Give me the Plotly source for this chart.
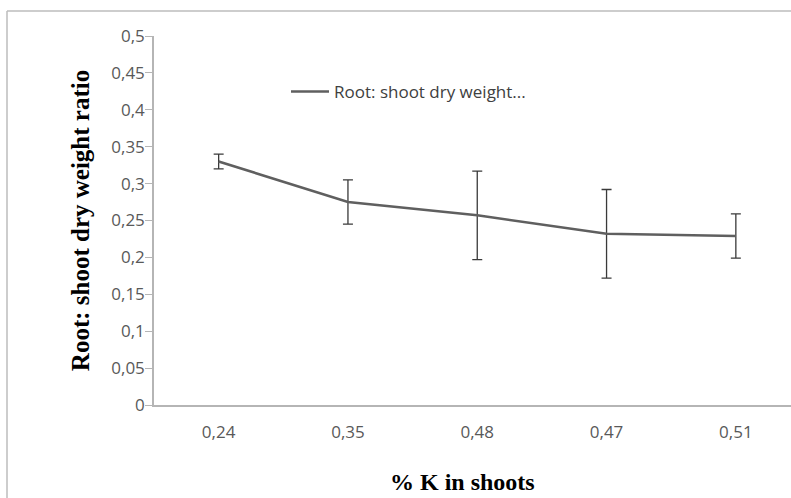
import plotly.graph_objects as go

categories = ["0,24", "0,35", "0,48", "0,47", "0,51"]
ratio = [0.33, 0.275, 0.257, 0.232, 0.229]
err = [0.01, 0.03, 0.06, 0.06, 0.03]
series_name = "Root: shoot dry weight..."
x_title = "% K in shoots"
y_title = "Root: shoot dry weight ratio"

W, H = 791, 498
L, R, T, B = 154, 0, 36, 93
pw, ph = W - L - R, H - T - B
cat_px = 129.3

fig = go.Figure()
fig.add_trace(go.Scatter(
    x=categories, y=ratio, mode="lines", name=series_name,
    line=dict(color="#5f5f5f", width=2.6),
    error_y=dict(type="data", array=err, visible=True, color="#3a3a3a",
                 thickness=1.3, width=5),
))

bx0 = (7 - L) / pw
by1 = 1 + (T - 11) / ph
fig.update_layout(
    width=W, height=H,
    margin=dict(l=L, r=R, t=T, b=B, autoexpand=False),
    paper_bgcolor="white", plot_bgcolor="white",
    separators=",.",
    showlegend=True,
    legend=dict(x=(286 - L) / pw, y=1 - (92 - T) / ph, xanchor="left", yanchor="middle",
                itemwidth=38,
                font=dict(family="Open Sans", size=17, color="#404040"),
                bgcolor="rgba(0,0,0,0)"),
    font=dict(family="Open Sans", size=17, color="#595959"),
    xaxis=dict(type="category", range=[-0.5, -0.5 + pw / cat_px], automargin=False,
               showline=True, linecolor="#b5b5b5", linewidth=1.5,
               ticks="", showgrid=False, zeroline=False,
               tickfont=dict(family="Open Sans", size=17, color="#595959"),
               ticklabelstandoff=11),
    yaxis=dict(range=[0, 0.5], dtick=0.05, tick0=0, automargin=False,
               showline=True, linecolor="#b5b5b5", linewidth=1.5,
               ticks="outside", ticklen=7, tickcolor="#b5b5b5", tickwidth=1.2,
               ticklabelstandoff=-3,
               showgrid=False, zeroline=False,
               tickfont=dict(family="Open Sans", size=17, color="#595959"),
               title=dict(text=y_title, standoff=15,
                          font=dict(family="Liberation Serif", size=25, color="#000000",
                                    weight="bold"))),
    annotations=[dict(text=x_title, xref="paper", yref="paper",
                      x=(462 - L) / pw, y=-(482 - (H - B)) / ph,
                      xanchor="center", yanchor="middle", showarrow=False,
                      font=dict(family="Liberation Serif", size=24, color="#000000",
                                weight="bold"))],
    shapes=[
        dict(type="line", xref="paper", yref="paper", x0=bx0, x1=1.0, y0=by1, y1=by1,
             line=dict(color="#bdbdbd", width=1.5), layer="below"),
        dict(type="line", xref="paper", yref="paper", x0=bx0, x1=bx0, y0=by1, y1=-0.3,
             line=dict(color="#bdbdbd", width=1.5), layer="below"),
    ],
)

fig.write_html("out.html", config={"displayModeBar": False},
               post_script="document.body.style.margin='0';document.body.style.overflow='hidden';")
